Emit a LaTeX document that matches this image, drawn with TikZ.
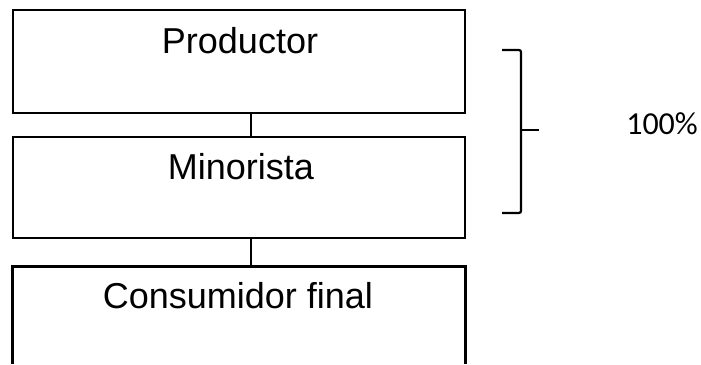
\documentclass[tikz,border=0pt]{standalone}
\usepackage{fontspec}
\setmainfont{Liberation Sans}
\newfontfamily\pctfont{Carlito}
\begin{document}
\begin{tikzpicture}[x=1pt,y=1pt,
  boxshape/.style={rectangle, draw=black, line width=2.8pt, inner sep=0pt, minimum width=452pt},
  openbox/.style={rectangle, inner sep=0pt, minimum width=452pt},
  openedge/.style={draw=black, line width=2.8pt},
  boxtext/.style={anchor=base, inner sep=0pt, font=\fontsize{36}{40}\selectfont},
  link/.style={draw=black, line width=2.6pt},
  bracketline/.style={draw=black, line width=2.2pt}]
\useasboundingbox (0,0) rectangle (701,364);
\node[boxshape, minimum height=103pt] (box1) at (239,302.5) {};
\node[boxshape, minimum height=101pt] (box2) at (239,176.5) {};
\node[openbox, minimum height=97pt] (box3) at (239,48.5) {};
\draw[openedge] (box3.south west) -- (box3.north west) -- (box3.north east) -- (box3.south east);
\node[boxtext] (t1) at (240,310) {Productor};
\node[boxtext] (t2) at (241,184) {Minorista};
\node[boxtext] (t3) at (238,56) {Consumidor final};
\draw[link] ([xshift=12pt]box1.south) -- ([xshift=12pt]box2.north);
\draw[link] ([xshift=12pt]box2.south) -- ([xshift=12pt]box3.north);
\coordinate (btop) at (502,314);
\coordinate (bbot) at (502,151);
\coordinate (bmid) at (521,234);
\coordinate (btip) at (539,234);
\draw[bracketline, rounded corners=2pt] (btop) -- (521,314) -- (521,151) -- (bbot);
\draw[bracketline] (bmid) -- (btip);
\node[anchor=base east, inner sep=0pt, font=\pctfont\fontsize{32}{36}\selectfont] (pct) at (698,229) {100\%};
\end{tikzpicture}
\end{document}
